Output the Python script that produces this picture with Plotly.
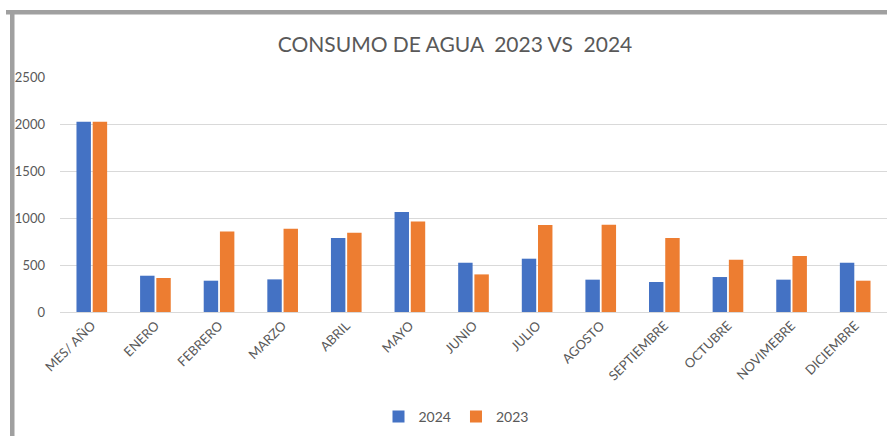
import plotly.graph_objects as go

categories = ["MES/ AÑO", "ENERO", "FEBRERO", "MARZO", "ABRIL", "MAYO", "JUNIO",
              "JULIO", "AGOSTO", "SEPTIEMBRE", "OCTUBRE", "NOVIMEBRE", "DICIEMBRE"]
values_2024 = [2024, 386, 333, 347, 787, 1064, 524, 567, 344, 319, 372, 344, 524]
values_2023 = [2023, 362, 857, 886, 844, 964, 400, 925, 929, 787, 556, 596, 333]
y_ticks = [0, 500, 1000, 1500, 2000, 2500]

W, H = 887, 436
ML, MR, MT, MB = 60, 0, 77, 124
PW, PH = W - ML - MR, H - MT - MB


def px_x(x):
    return (x - ML) / PW


def px_y(y):
    return (H - MB - y) / PH


fig = go.Figure()
fig.add_trace(go.Bar(name="2024", x=categories, y=values_2024, marker_color="#4472C4",
                     marker_line_width=0))
fig.add_trace(go.Bar(name="2023", x=categories, y=values_2023, marker_color="#ED7D31",
                     marker_line_width=0))

fig.update_layout(
    width=W, height=H,
    margin=dict(l=ML, r=MR, t=MT, b=MB, pad=0),
    paper_bgcolor="white", plot_bgcolor="white",
    barmode="group", bargap=0.49, bargroupgap=0.11,
    font=dict(family="Lato, 'Open Sans', sans-serif", color="#595959"),
    title=dict(text="CONSUMO DE AGUA  2023 VS  2024", x=455 / W, xanchor="center",
               y=1 - 45 / H, yanchor="middle",
               font=dict(size=21, color="#595959", family="Lato, 'Open Sans', sans-serif")),
    showlegend=True,
    legend=dict(orientation="h", x=px_x(456), xanchor="center",
                y=px_y(417), yanchor="middle", font=dict(size=14, color="#595959"),
                bgcolor="rgba(0,0,0,0)", itemwidth=30, traceorder="normal"),
    xaxis=dict(type="category", range=[-0.5, 12.5], tickangle=-45, showgrid=False,
               showline=True, linecolor="#d9d9d9", linewidth=1, ticks="",
               tickfont=dict(size=13, color="#595959")),
    yaxis=dict(range=[0, 2500], tickvals=y_ticks, showgrid=True, gridcolor="#d9d9d9",
               gridwidth=1, zeroline=False, showline=False, ticks="", ticklabelstandoff=14,
               tickfont=dict(size=13, color="#595959")),
    shapes=[
        dict(type="rect", xref="paper", yref="paper", x0=px_x(6), x1=1.0,
             y0=px_y(14.5), y1=px_y(10), fillcolor="#a0a0a0", line_width=0, layer="above"),
        dict(type="rect", xref="paper", yref="paper", x0=px_x(10), x1=px_x(14.5),
             y0=px_y(436), y1=px_y(10), fillcolor="#a0a0a0", line_width=0, layer="above"),
    ],
)

fig.write_html("out.html")
